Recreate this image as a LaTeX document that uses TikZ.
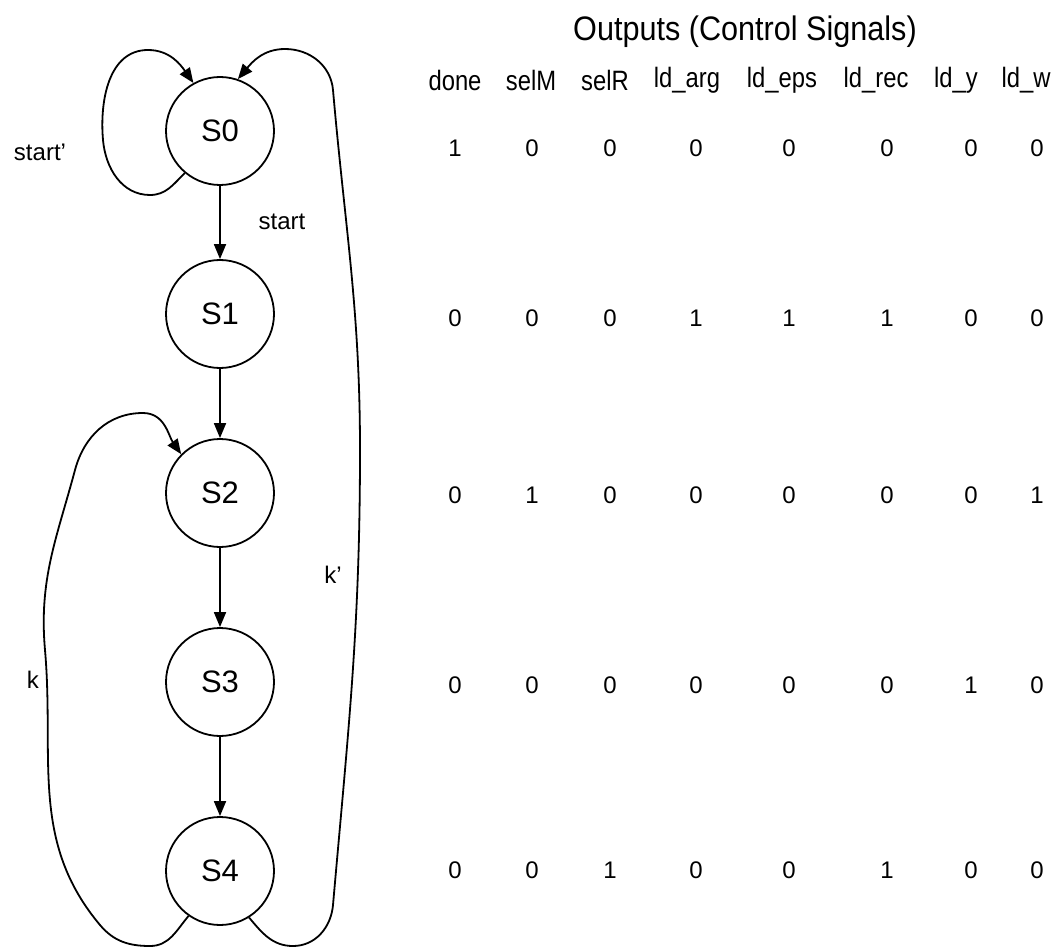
\documentclass[tikz,border=0pt]{standalone}
\usepackage{fontspec}
\setmainfont{Liberation Sans}
\newfontfamily\narrowfont{Liberation Sans}[FakeStretch=0.85]
\newfontfamily\titlefont{Liberation Sans}[FakeStretch=0.9]
\usetikzlibrary{arrows.meta}
\begin{document}
\begin{tikzpicture}[x=1pt,y=1pt,
  state/.style={circle,draw,line width=1.8pt,minimum size=108pt,inner sep=0pt,
    font=\fontsize{31}{36}\selectfont},
  trans/.style={line width=1.8pt,-{Triangle[length=15pt,width=12pt]}},
  lbl/.style={font=\fontsize{24}{28}\selectfont},
  hdr/.style={font=\narrowfont\fontsize{28}{32}\selectfont},
  val/.style={font=\fontsize{24}{28}\selectfont}]
\useasboundingbox (0,0) rectangle (1059,-949);

% states
\node[state] (S0) at (220,-131) {S0};
\node[state] (S1) at (220,-314) {S1};
\node[state] (S2) at (220,-493) {S2};
\node[state] (S3) at (220,-682) {S3};
\node[state] (S4) at (220,-871) {S4};

% straight transitions
\draw[trans] (S0) -- (S1);
\draw[trans] (S1) -- (S2);
\draw[trans] (S2) -- (S3);
\draw[trans] (S3) -- (S4);

% self loop on S0
\draw[trans] (S0.230) to[out=-135,in=0] (150,-195)
  to[out=180,in=-85] (103,-140)
  to[out=95,in=180] (148,-50)
  to[out=0,in=125] (S0.119);

% k': S4 back to S0
\draw[trans] (S4.302) to[out=-50,in=180] (293,-946)
  to[out=0,in=-95] (333,-905)
  to[out=85,in=-90] (360,-450)
  to[out=90,in=-85] (333,-90)
  to[out=95,in=0] (285,-49)
  to[out=180,in=50] (S0.71);

% k: S4 back to S2
\draw[trans] (S4.235) to[out=-130,in=0] (150,-946)
  to[out=180,in=-50] (100,-925)
  to[out=130,in=-85] (45,-650)
  to[out=95,in=-105] (75,-470)
  to[out=75,in=180] (143,-413)
  to[out=0,in=125] (S2.135);

% transition labels
\node[lbl] (lstartn) at (40,-152) {start'};
\node[lbl] (lstart) at (282,-222) {start};
\node[lbl] (lkn) at (333,-575) {k'};
\node[lbl] (lk) at (33,-680) {k};

% output table
\node[font=\titlefont\fontsize{34}{40}\selectfont] (title) at (745,-32) {Outputs (Control Signals)};
\foreach \name/\xx [count=\c] in {done/455,selM/531,selR/605,ld\_arg/687,ld\_eps/782,ld\_rec/876,ld\_y/956,ld\_w/1026}
  \node[hdr] (h\c) at (\xx,-80) {\name};

\foreach \vals/\yy [count=\r] in {{1,0,0,0,0,0,0,0}/148,{0,0,0,1,1,1,0,0}/318,{0,1,0,0,0,0,0,1}/495,{0,0,0,0,0,0,1,0}/685,{0,0,1,0,0,1,0,0}/870}
  \foreach \xx [count=\c] in {455,532,610,696,789,887,971,1037} {
    \pgfmathtruncatemacro\v{{\vals}[\c-1]}
    \node[val] (v\r-\c) at (\xx,-\yy) {\v};
  }
\end{tikzpicture}
\end{document}
